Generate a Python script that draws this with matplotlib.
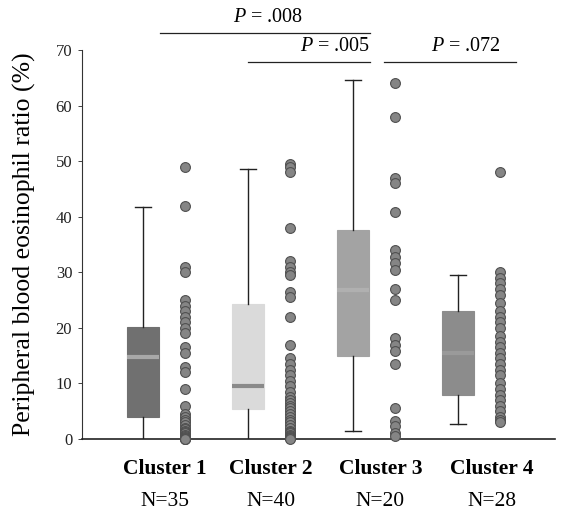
import matplotlib
matplotlib.use("Agg")
import matplotlib.pyplot as plt

plt.rcParams['font.family'] = ['Liberation Serif', 'DejaVu Serif']
plt.rcParams['mathtext.fontset'] = 'custom'
plt.rcParams['mathtext.it'] = 'Liberation Serif:italic'
plt.rcParams['mathtext.rm'] = 'Liberation Serif'

clusters = ["Cluster 1", "Cluster 2", "Cluster 3", "Cluster 4"]
counts = ["N=35", "N=40", "N=20", "N=28"]

# box statistics (whisker low, Q1, median, Q3, whisker high)
whislo = [0.0, 0.0, 1.4, 2.7]
q1 = [4.0, 5.4, 14.9, 8.0]
med = [14.8, 9.5, 26.9, 15.5]
q3 = [20.2, 24.3, 37.6, 23.0]
whishi = [41.7, 48.5, 64.6, 29.5]
show_low_cap = [False, False, True, True]

c1 = [49, 42, 31, 30, 25, 24, 23, 22, 21, 20, 19, 16.5, 15.5, 13, 12, 9, 6, 4.5, 4,
      3.5, 3, 2.5, 2, 1.8, 1.5, 1.2, 1, 0.8, 0.5, 0.3, 0.2, 0.1, 0, 0, 0]
c2 = [49.5, 49, 48, 38, 32, 31, 30, 29.5, 26.5, 25.5, 22, 17, 14.5, 13.5, 12.5, 11.5,
      10.5, 9.5, 8.5, 7.5, 7, 6.5, 6, 5.5, 5, 4.5, 4, 3.5, 3, 2.5, 2, 1.5, 1.2, 1,
      0.8, 0.5, 0.3, 0.2, 0.1, 0]
c3 = [64, 58, 47, 46, 40.8, 34, 32.8, 31.6, 30.4, 27, 25, 18.2, 17, 15.8, 13.5, 5.6,
      3.2, 2.3, 1.1, 0.5]
c4 = [48, 30, 29, 28, 27, 26, 24.5, 23, 22, 21, 20, 18.5, 17.5, 16.5, 15.5, 14.5,
      13.5, 12.5, 11.5, 10, 9, 8, 7, 6, 5, 4, 3.5, 3]
points = [c1, c2, c3, c4]

p_texts = ["$P$ = .008", "$P$ = .005", "$P$ = .072"]

box_colors = ["#707070", "#dadada", "#a3a3a3", "#8c8c8c"]
median_colors = ["#a8a8a8", "#8a8a8a", "#b0b0b0", "#9a9a9a"]

fig = plt.figure(figsize=(5.81, 5.18), dpi=100)
ax = fig.add_axes([0.141, 0.1525, 0.814, 0.751])

pos = [1, 2, 3, 4]
for i in range(4):
    st = dict(whislo=whislo[i], q1=q1[i], med=med[i], q3=q3[i],
              whishi=whishi[i], fliers=[])
    res = ax.bxp([st], positions=[pos[i]], widths=0.3, patch_artist=True,
                 showfliers=False,
                 boxprops=dict(facecolor=box_colors[i], edgecolor=box_colors[i], linewidth=0.8),
                 medianprops=dict(color=median_colors[i], linewidth=3),
                 whiskerprops=dict(color="#222222", linewidth=1.0),
                 capprops=dict(color="#222222", linewidth=1.0),
                 capwidths=0.15)
    if not show_low_cap[i]:
        res['caps'][0].set_visible(False)

for i in range(4):
    ax.scatter([pos[i] + 0.4] * len(points[i]), points[i], s=50, color="#858585",
               edgecolors="#505050", linewidths=0.8, zorder=3, clip_on=False)

ax.set_ylim(0, 70)
ax.set_xlim(0.42, 4.92)
ax.set_yticks(range(0, 71, 10))
ax.tick_params(axis='y', direction='out', length=3, width=0.6, labelsize=12, pad=4, colors="#222222")
ax.tick_params(axis='x', length=0)
ax.spines['top'].set_visible(False)
ax.spines['right'].set_visible(False)
ax.spines['left'].set_linewidth(0.8)
ax.spines['bottom'].set_linewidth(1.2)
ax.spines['left'].set_color("#333333")
ax.spines['bottom'].set_color("#222222")

label_x = [1.21, 2.22, 3.26, 4.32]
ax.set_xticks(label_x)
ax.set_xticklabels([""] * 4)
for i in range(4):
    ax.text(label_x[i], -5.4, clusters[i], ha='center', va='center', fontsize=15.5,
            fontweight='bold', clip_on=False)
    ax.text(label_x[i], -11.2, counts[i], ha='center', va='center', fontsize=15.5,
            clip_on=False)

ax.set_ylabel("Peripheral blood eosinophil ratio (%)", fontsize=18.5, labelpad=14)

# significance annotations
def bracket(x0, x1, y, text, tx, ty, ha):
    ax.plot([x0, x1], [y, y], color="#222222", lw=0.9, clip_on=False)
    ax.text(tx, ty, text, ha=ha, va='center', fontsize=14.5, clip_on=False)

bracket(1.16, 3.16, 73.1, p_texts[0], 2.19, 75.9, 'center')
bracket(2.00, 3.16, 67.9, p_texts[1], 3.16, 70.6, 'right')
bracket(3.29, 4.55, 67.9, p_texts[2], 4.07, 70.6, 'center')

fig.savefig("out.png", dpi=100)
